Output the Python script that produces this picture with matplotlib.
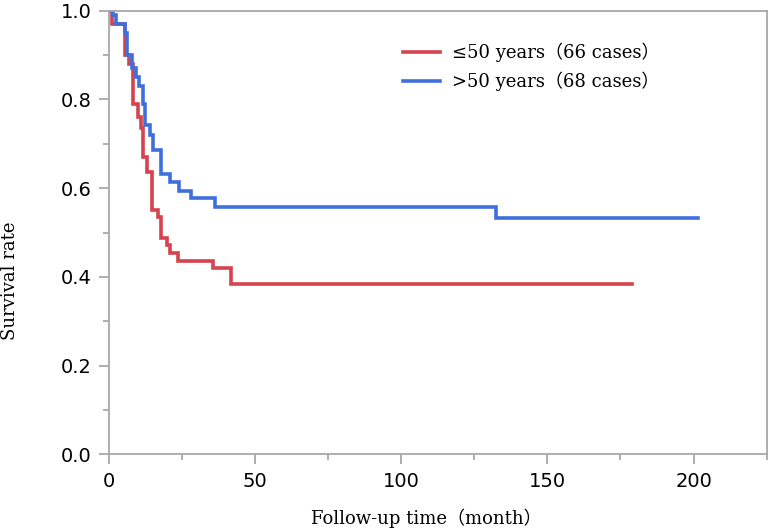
import numpy as np
import matplotlib
matplotlib.use("Agg")
import matplotlib.pyplot as plt
from matplotlib.ticker import MultipleLocator

# Kaplan-Meier step points (time in months, survival rate)
young_t = [0, 1.0, 5.7, 7.1, 8.4, 10.0, 11.2, 11.8, 13.0, 14.8, 17.0, 17.9, 19.9,
           21.0, 23.8, 35.8, 41.9, 179.0]
young_s = [1.0, 0.97, 0.90, 0.88, 0.79, 0.76, 0.735, 0.67, 0.636, 0.55, 0.536, 0.488,
           0.472, 0.453, 0.435, 0.42, 0.384, 0.384]

old_t = [0, 1.5, 2.5, 5.6, 6.2, 8.0, 9.4, 10.5, 11.7, 12.5, 14.2, 15.0, 17.8, 21.0,
         24.1, 28.3, 36.5, 132.3, 201.4]
old_s = [1.0, 0.99, 0.97, 0.95, 0.90, 0.87, 0.85, 0.83, 0.79, 0.742, 0.72, 0.686, 0.632,
         0.614, 0.594, 0.577, 0.558, 0.532, 0.532]

labels = ["≤50 years（66 cases）", ">50 years（68 cases）"]
x_ticks = [0, 50, 100, 150, 200]
y_ticks = [0.0, 0.2, 0.4, 0.6, 0.8, 1.0]

serif = ["DejaVu Serif", "Noto Sans CJK SC"]
grey = "#a8a8a8"

fig = plt.figure(figsize=(7.74, 5.30), dpi=100)
ax = fig.add_axes([0.1404, 0.1425, 0.9906 - 0.1404, 0.9798 - 0.1425])

ax.step(young_t, young_s, where="post", color="#d6434f", lw=2.6, label=labels[0],
        solid_joinstyle="miter")
ax.step(old_t, old_s, where="post", color="#3f6fdc", lw=2.6, label=labels[1],
        solid_joinstyle="miter")

ax.set_xlim(0, 225)
ax.set_ylim(0, 1.0)
ax.set_xticks(x_ticks)
ax.set_yticks(y_ticks)
ax.set_yticklabels(["%.1f" % v for v in y_ticks])
ax.xaxis.set_minor_locator(MultipleLocator(25))
ax.yaxis.set_minor_locator(MultipleLocator(0.1))

for s in ax.spines.values():
    s.set_color(grey)
    s.set_linewidth(1.3)
ax.tick_params(which="major", length=7.5, width=1.3, color=grey, pad=5,
               labelsize=14, labelcolor="black")
ax.tick_params(which="minor", length=4.5, width=1.3, color=grey)

fig.text(10 / 774, 1 - 281 / 530, "Survival rate", rotation=90, ha="center",
         va="center", fontsize=13, family=serif)
fig.text(426 / 774, 1 - 518 / 530, "Follow-up time（month）", ha="center",
         va="center", fontsize=13, family=serif)

leg = ax.legend(loc="upper left", bbox_to_anchor=(403 / 774, 1 - 43 / 530),
                bbox_transform=fig.transFigure, frameon=False, borderpad=0,
                borderaxespad=0, handlelength=2.05, handletextpad=0.65,
                labelspacing=0.5, prop={"family": serif, "size": 13})

fig.savefig("out.png", dpi=100)
